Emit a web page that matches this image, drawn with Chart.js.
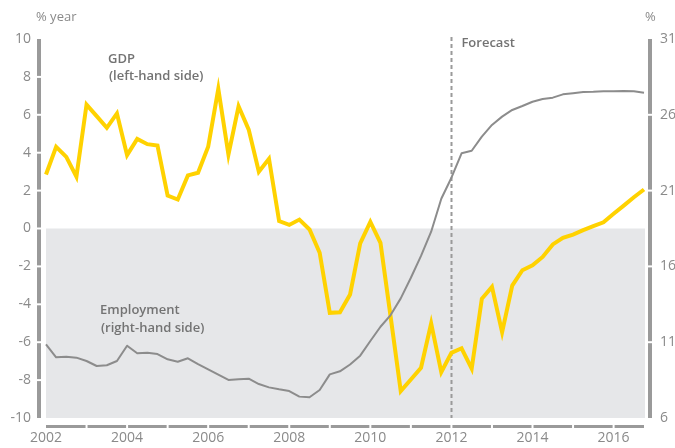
<!DOCTYPE html>
<html>
<head>
<meta charset="utf-8">
<script src="https://cdn.jsdelivr.net/npm/chart.js@4/dist/chart.umd.min.js"></script>
<style>
html,body{margin:0;padding:0;background:#fff;}
#wrap{width:675px;height:448px;position:relative;}
</style>
</head>
<body>
<div id="wrap"><canvas id="c" width="675" height="448"></canvas></div>
<script>
// ---- data ----
const years = [2002,2003,2004,2005,2006,2007,2008,2009,2010,2011,2012,2013,2014,2015,2016];
const quarterNames = ['Q1','Q2','Q3','Q4'];
const quarters = years.flatMap(y => quarterNames.map(q => y + ' ' + q));

// GDP growth, % year (left-hand side)
const gdp = [2.85,4.31,3.78,2.73,6.54,5.93,5.31,6.07,3.87,4.73,4.45,4.38,
             1.74,1.53,2.80,2.94,4.31,7.37,3.90,6.45,5.22,2.99,3.68,0.39,
             0.19,0.47,-0.05,-1.28,-4.45,-4.42,-3.48,-0.79,0.35,-0.76,-4.65,-8.58,
             -7.97,-7.35,-5.01,-7.58,-6.56,-6.32,-7.39,-3.71,-3.08,-5.47,-3.01,-2.20,
             -1.94,-1.50,-0.84,-0.49,-0.32,-0.09,0.12,0.33,0.78,1.21,1.65,2.06];

// Unemployment-type series, % (right-hand side)
const employment = [10.86,10.00,10.04,9.98,9.76,9.43,9.48,9.76,10.77,10.27,10.31,10.22,
                    9.87,9.71,9.94,9.56,9.21,8.86,8.51,8.55,8.59,8.24,8.02,7.89,
                    7.78,7.41,7.37,7.85,8.88,9.08,9.53,10.11,11.08,12.02,12.79,13.89,
                    15.25,16.69,18.29,20.46,21.85,23.46,23.63,24.56,25.33,25.88,26.32,26.58,
                    26.86,27.04,27.13,27.35,27.42,27.50,27.52,27.56,27.56,27.57,27.56,27.46];

const leftTicks = [-10,-8,-6,-4,-2,0,2,4,6,8,10];
const rightTicks = [6,11,16,21,26,31];
const forecastStart = '2012 Q1';

// ---- styles ----
const FONT = '"Open Sans", "Noto Sans", sans-serif';
const TICK_COLOR = '#8a8a8a';
const AXIS_COLOR = '#9a9a9a';
const TEXT_COLOR = '#737373';

const deco = {
  id: 'deco',
  beforeDatasetsDraw(chart) {
    const {ctx, chartArea: a, scales: {x, y}} = chart;
    const y0 = y.getPixelForValue(0), yb = y.getPixelForValue(-10);
    ctx.save();
    ctx.fillStyle = '#e6e7e9';
    ctx.fillRect(a.left, y0, a.right - a.left + 1, yb - y0);
    // forecast dashed line
    const fx = Math.round(x.getPixelForValue(quarters.indexOf(forecastStart))) + 0.5;
    ctx.strokeStyle = '#9a9a9a';
    ctx.lineWidth = 2;
    ctx.setLineDash([4, 3]);
    ctx.beginPath();
    ctx.moveTo(fx, a.top - 2);
    ctx.lineTo(fx, a.bottom);
    ctx.stroke();
    ctx.restore();
  },
  afterDraw(chart) {
    const {ctx, chartArea: a, scales: {x, y, y2}} = chart;
    ctx.save();
    ctx.fillStyle = AXIS_COLOR;
    // left axis bar with gaps
    const lx = a.left - 9;
    const lp = leftTicks.map(v => y.getPixelForValue(v)).sort((p, q) => p - q);
    for (let i = 0; i < lp.length - 1; i++) {
      const t = lp[i] + (i === 0 ? 0 : 1), b = lp[i + 1] - (i === lp.length - 2 ? 0 : 1);
      ctx.fillRect(lx, t, 4, b - t);
    }
    // right axis bar with gaps
    const rx = a.right + 4;
    const rp = rightTicks.map(v => y2.getPixelForValue(v)).sort((p, q) => p - q);
    for (let i = 0; i < rp.length - 1; i++) {
      const t = rp[i] + (i === 0 ? 0 : 1), b = rp[i + 1] - (i === rp.length - 2 ? 0 : 1);
      ctx.fillRect(rx, t, 4, b - t);
    }
    // bottom axis dashes between years
    const by = a.bottom + 7;
    const xs = [];
    quarters.forEach((q, i) => { if (q.endsWith('Q1')) xs.push(x.getPixelForValue(i)); });
    xs.push(x.getPixelForValue(quarters.length - 1));
    for (let i = 0; i < xs.length - 1; i++) {
      const l = xs[i] + (i === 0 ? 0 : 1), r = xs[i + 1] - (i === xs.length - 2 ? 0 : 1);
      ctx.fillRect(l, by, r - l, 3);
    }
    // unit labels
    ctx.fillStyle = TICK_COLOR;
    ctx.font = '13px ' + FONT;
    ctx.textBaseline = 'middle';
    ctx.textAlign = 'left';
    ctx.fillText('% year', 36, 17);
    ctx.fillText('%', a.right + 1, 17);
    // annotations
    ctx.fillStyle = TEXT_COLOR;
    ctx.font = '600 13px ' + FONT;
    ctx.fillText('GDP', 108, 59);
    ctx.fillText('(left-hand side)', 109, 76);
    ctx.fillText('Employment', 100, 310);
    ctx.fillText('(right-hand side)', 101, 328);
    const fx = x.getPixelForValue(quarters.indexOf(forecastStart));
    ctx.fillText('Forecast', fx + 10, 43);
    ctx.restore();
  }
};

new Chart(document.getElementById('c'), {
  type: 'line',
  data: {
    labels: quarters,
    datasets: [
      {label: 'Employment', data: employment, yAxisID: 'y2', borderColor: '#8c8c8c', borderWidth: 2,
       pointRadius: 0, tension: 0, borderJoinStyle: 'round'},
      {label: 'GDP', data: gdp, yAxisID: 'y', borderColor: '#ffd200', borderWidth: 4,
       pointRadius: 0, tension: 0, borderJoinStyle: 'miter'}
    ]
  },
  options: {
    responsive: false,
    animation: false,
    layout: {padding: {top: 39, left: 0, right: 0, bottom: 0}},
    plugins: {legend: {display: false}, tooltip: {enabled: false}},
    scales: {
      x: {
        type: 'category',
        offset: false,
        grid: {display: false, drawTicks: false},
        border: {display: false},
        ticks: {
          autoSkip: false, maxRotation: 0, padding: 12,
          color: TICK_COLOR, font: {family: FONT, size: 14},
          callback: function(v, i) {
            const q = quarters[i];
            const yr = parseInt(q);
            return (q.endsWith('Q1') && (yr - 2002) % 2 === 0) ? String(yr) : '';
          }
        },
        afterFit(s) { s.height = 30; }
      },
      y: {
        position: 'left', min: -10, max: 10,
        grid: {display: false, drawTicks: false},
        border: {display: false},
        afterBuildTicks(s) { s.ticks = leftTicks.map(v => ({value: v})); },
        ticks: {padding: 15, color: TICK_COLOR, font: {family: FONT, size: 14}},
        afterFit(s) { s.width = 46; }
      },
      y2: {
        position: 'right', min: 6, max: 31,
        grid: {display: false, drawTicks: false},
        border: {display: false},
        afterBuildTicks(s) { s.ticks = rightTicks.map(v => ({value: v})); },
        ticks: {padding: 16, color: TICK_COLOR, font: {family: FONT, size: 14}},
        afterFit(s) { s.width = 31; }
      }
    }
  },
  plugins: [deco]
});
</script>
</body>
</html>
